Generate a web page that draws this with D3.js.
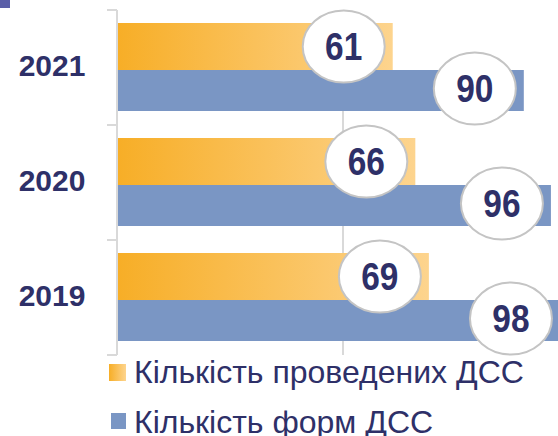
<!DOCTYPE html>
<html>
<head>
<meta charset="utf-8">
<script src="https://cdn.jsdelivr.net/npm/d3@7"></script>
<style>
  body { margin: 0; background: #fff; }
  svg { display: block; font-family: "Liberation Sans", Arial, sans-serif; }
</style>
</head>
<body>
<svg id="chart" width="558" height="436"></svg>
<script>
// дані
let years = ['2021', '2020', '2019'];
let held = [61, 66, 69];      // Кількість проведених ДСС
let forms = [90, 96, 98];     // Кількість форм ДСС
let seriesNames = ['Кількість проведених ДСС', 'Кількість форм ДСС'];
let xTicks = [0, 50, 100];

let svg = d3.select('#chart');
let textColor = '#2e3068';

// шкали
let x = d3.scaleLinear().domain([0, 100]).range([117, 569]);
let y = d3.scaleBand().domain(years).range([10, 355]);

// градієнт для помаранчевих стовпців
let defs = svg.append('defs');
let grad = defs.append('linearGradient').attr('id', 'orangeGrad')
    .attr('x1', '0%').attr('x2', '100%').attr('y1', '0%').attr('y2', '0%');
grad.append('stop').attr('offset', '0%').attr('stop-color', '#f7ae27');
grad.append('stop').attr('offset', '100%').attr('stop-color', '#fdd48e');

// декоративний квадрат
svg.append('rect').attr('x', 0).attr('y', 0).attr('width', 10).attr('height', 8).attr('fill', '#5b5fa8');

// сітка
svg.selectAll('line.grid')
    .data(xTicks.slice(1))
    .enter()
    .append('line')
    .attr('class', 'grid')
    .attr('x1', d => x(d)).attr('x2', d => x(d))
    .attr('y1', y.range()[0]).attr('y2', y.range()[1])
    .attr('stroke', '#d9d9d9').attr('stroke-width', 2);

// вісь категорій
svg.append('line')
    .attr('x1', x(0)).attr('x2', x(0))
    .attr('y1', y.range()[0]).attr('y2', y.range()[1])
    .attr('stroke', '#d9d9d9').attr('stroke-width', 2);
let tickYs = years.map(d => y(d)).concat([y.range()[1]]);
svg.selectAll('line.tick')
    .data(tickYs)
    .enter()
    .append('line')
    .attr('class', 'tick')
    .attr('x1', x(0) - 10).attr('x2', x(0))
    .attr('y1', d => d).attr('y2', d => d)
    .attr('stroke', '#d9d9d9').attr('stroke-width', 2);

// стовпці
let g = svg.append('g');
let orangeTop = 13, orangeH = 47, blueTop = 60, blueH = 41;

g.selectAll('rect.held')
    .data(held)
    .enter()
    .append('rect')
    .attr('x', x(0) + 1)
    .attr('y', (d, i) => y(years[i]) + orangeTop)
    .attr('width', d => x(d) - x(0) - 1)
    .attr('height', orangeH)
    .attr('fill', 'url(#orangeGrad)');

g.selectAll('rect.forms')
    .data(forms)
    .enter()
    .append('rect')
    .attr('x', x(0) + 1)
    .attr('y', (d, i) => y(years[i]) + blueTop)
    .attr('width', d => x(d) - x(0) - 1)
    .attr('height', blueH)
    .attr('fill', '#7a96c4');

// підписи значень в еліпсах
function addLabels(data, top, h, dy) {
    let lbl = g.selectAll(null)
        .data(data)
        .enter()
        .append('g')
        .attr('transform', (d, i) => 'translate(' + (x(d) - 49) + ',' + (y(years[i]) + top + h / 2 + dy) + ')');
    lbl.append('ellipse')
        .attr('rx', 41).attr('ry', 36)
        .attr('fill', '#fff')
        .attr('stroke', '#c4c4c4').attr('stroke-width', 2);
    lbl.append('text')
        .attr('text-anchor', 'middle')
        .attr('transform', 'scale(0.88,1)')
        .attr('dy', '0.36em')
        .attr('font-size', 38)
        .attr('font-weight', 'bold')
        .attr('fill', textColor)
        .text(d => d);
}
addLabels(held, orangeTop, orangeH, 0);
addLabels(forms, blueTop, blueH, -2);

// роки
svg.selectAll('text.year')
    .data(years)
    .enter()
    .append('text')
    .attr('class', 'year')
    .attr('x', 52)
    .attr('y', d => y(d) + y.bandwidth() / 2 - 2)
    .attr('dy', '0.36em')
    .attr('text-anchor', 'middle')
    .attr('font-size', 30)
    .attr('font-weight', 'bold')
    .attr('fill', textColor)
    .text(d => d);

// легенда
let legend = svg.append('g');
let legendFills = ['url(#orangeGrad)', '#7a96c4'];
let items = legend.selectAll('g')
    .data(seriesNames)
    .enter()
    .append('g')
    .attr('transform', (d, i) => 'translate(0,' + (383 + i * 50) + ')');
items.append('rect')
    .attr('x', (d, i) => i === 0 ? 109 : 111)
    .attr('y', (d, i) => i === 0 ? -19 : -20)
    .attr('width', (d, i) => i === 0 ? 17 : 15)
    .attr('height', (d, i) => i === 0 ? 17 : 16)
    .attr('fill', (d, i) => legendFills[i]);
items.append('text')
    .attr('x', 134)
    .attr('font-size', 32)
    .attr('fill', textColor)
    .text(d => d);
</script>
</body>
</html>
